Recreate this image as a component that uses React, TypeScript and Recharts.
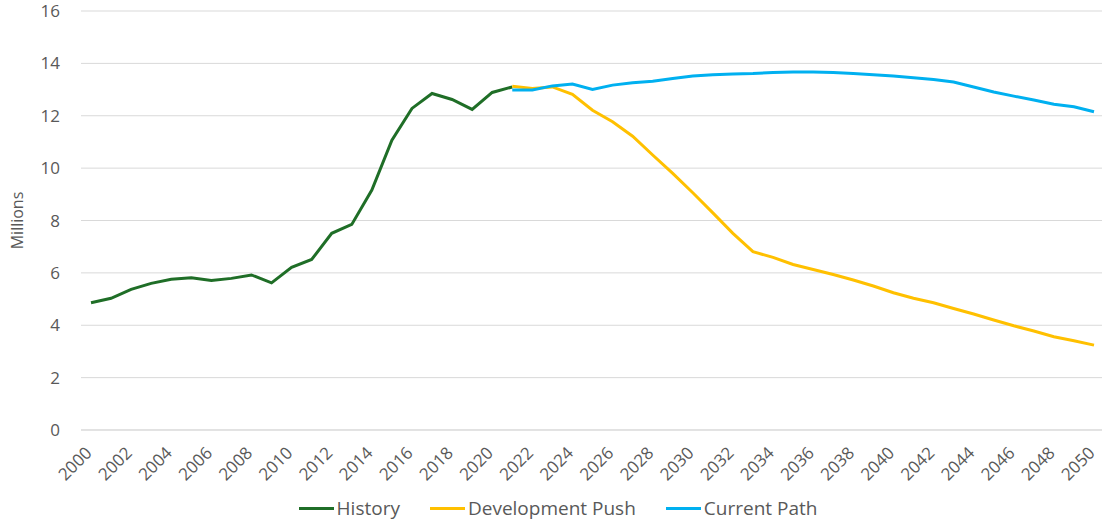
import React from 'react';
import { LineChart, Line, XAxis, YAxis, CartesianGrid, Legend, Label } from 'recharts';

const years: number[] = [];
for (let y = 2000; y <= 2050; y++) years.push(y);

// 2000 - 2021
const history = [
  4.86, 5.03, 5.37, 5.6, 5.76, 5.81, 5.71, 5.79, 5.92, 5.62,
  6.21, 6.51, 7.51, 7.85, 9.16, 11.07, 12.28, 12.85, 12.62, 12.24,
  12.89, 13.1,
];

// 2021 - 2050
const developmentPush = [
  13.13, 13.04, 13.1, 12.82, 12.21, 11.77, 11.22, 10.5, 9.8, 9.06,
  8.29, 7.51, 6.81, 6.59, 6.32, 6.13, 5.94, 5.73, 5.5, 5.24,
  5.03, 4.86, 4.64, 4.43, 4.2, 3.98, 3.78, 3.56, 3.41, 3.24,
];

// 2021 - 2050
const currentPath = [
  12.98, 12.98, 13.14, 13.21, 13.0, 13.17, 13.26, 13.32, 13.42, 13.52,
  13.57, 13.59, 13.61, 13.65, 13.67, 13.67, 13.65, 13.61, 13.57, 13.52,
  13.45, 13.38, 13.29, 13.1, 12.91, 12.75, 12.6, 12.44, 12.34, 12.15,
];

const yTicks = [0, 2, 4, 6, 8, 10, 12, 14, 16];

const seriesInfo = [
  { key: 'history', name: 'History', color: '#1f6e27' },
  { key: 'development', name: 'Development Push', color: '#ffc000' },
  { key: 'current', name: 'Current Path', color: '#00b0f0' },
];

const data = years.map((yr, i) => ({
  year: String(yr),
  history: i < history.length ? history[i] : null,
  development: i >= 21 ? developmentPush[i - 21] : null,
  current: i >= 21 ? currentPath[i - 21] : null,
}));

const FONT = '"Open Sans", "Noto Sans", sans-serif';

const YearTick = (props: any) => {
  const { x, y, payload } = props;
  return (
    <g transform={`translate(${x + 2},${y + 16})`}>
      <text textAnchor="end" transform="rotate(-45)" fill="#595959" fontSize={17} fontFamily={FONT}>
        {payload.value}
      </text>
    </g>
  );
};

const LegendContent = () => (
  <div style={{ display: 'flex', justifyContent: 'center', alignItems: 'center', height: 26, paddingLeft: 12, fontFamily: FONT, fontSize: 19, color: '#595959' }}>
    {seriesInfo.map((s, i) => (
      <div key={s.key} style={{ display: 'flex', alignItems: 'center', marginRight: i < seriesInfo.length - 1 ? 30 : 0 }}>
        <span style={{ display: 'inline-block', width: 35, height: 3, background: s.color, marginRight: 3 }} />
        <span>{s.name}</span>
      </div>
    ))}
  </div>
);

export default function App() {
  return (
    <div style={{ position: 'absolute', left: 0, top: 0, width: 1102, height: 521, overflow: 'hidden', background: '#fff' }}>
      <LineChart width={1104} height={521} data={data} margin={{ top: 11, right: 0, left: 0, bottom: 0 }}>
        <CartesianGrid vertical={false} stroke="#d9d9d9" strokeWidth={1} />
        <XAxis
          dataKey="year"
          interval={1}
          padding={{ left: 10, right: 10 }}
          tickLine={false}
          axisLine={{ stroke: '#d9d9d9' }}
          height={65}
          tick={<YearTick />}
        />
        <YAxis
          domain={[0, 16]}
          ticks={yTicks}
          width={81}
          tickLine={false}
          axisLine={false}
          tickMargin={15}
          tick={{ fill: '#595959', fontSize: 17, fontFamily: FONT }}
        >
          <Label
            value="Millions"
            angle={-90}
            position="insideLeft"
            offset={17}
            style={{ fill: '#595959', fontSize: 16, fontFamily: FONT, textAnchor: 'middle' }}
          />
        </YAxis>
        <Legend verticalAlign="bottom" height={26} content={<LegendContent />} />
        {seriesInfo.map((s) => (
          <Line
            key={s.key}
            type="linear"
            dataKey={s.key}
            name={s.name}
            stroke={s.color}
            strokeWidth={3}
            dot={false}
            activeDot={false}
            isAnimationActive={false}
          />
        ))}
      </LineChart>
    </div>
  );
}
